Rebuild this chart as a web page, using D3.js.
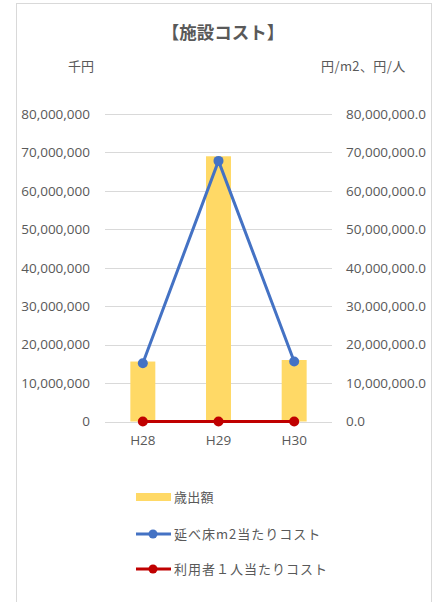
<!DOCTYPE html>
<html><head><meta charset="utf-8">
<script src="https://cdn.jsdelivr.net/npm/d3@7"></script>
<style>
html,body{margin:0;padding:0;background:#fff;}
text{font-family:"Noto Sans CJK JP","Noto Sans",sans-serif;}
</style></head>
<body>
<svg id="c" width="435" height="602"></svg>
<script>
const categories = ["H28","H29","H30"];
const expenditure = [15600000, 69000000, 16000000];
const costPerArea = [15150000, 67800000, 15600000];
const costPerUser = [0, 0, 0];
const leftTicks = [0,10000000,20000000,30000000,40000000,50000000,60000000,70000000,80000000];
const seriesNames = ["歳出額","延べ床m2当たりコスト","利用者１人当たりコスト"];

const svg = d3.select("#c");
const gray = "#595959";
const numFont = "'Open Sans','Noto Sans',sans-serif";
svg.append("rect").attr("x",16.5).attr("y",3.5).attr("width",415).attr("height",610)
  .attr("fill","#fff").attr("stroke","#d9d9d9").attr("stroke-width",1);

const x = d3.scaleBand().domain(categories).range([105,332]).padding(0);
const yL = d3.scaleLinear().domain([0,80000000]).range([421.5,114]);
const yR = d3.scaleLinear().domain([0,80000000]).range([421.5,114]);

// gridlines
svg.append("g").selectAll("line").data(leftTicks).join("line")
  .attr("x1",105).attr("x2",332).attr("y1",d=>Math.round(yL(d))+0.5).attr("y2",d=>Math.round(yL(d))+0.5)
  .attr("stroke","#d9d9d9").attr("stroke-width",1);

// left axis
const la = svg.append("g").attr("transform","translate(96,0)")
  .call(d3.axisLeft(yL).tickValues(leftTicks).tickSize(0).tickPadding(6).tickFormat(d3.format(",")));
la.select(".domain").remove();
la.selectAll("text").attr("fill",gray).style("font-size","13.5px").style("font-family",numFont);

const ra = svg.append("g").attr("transform","translate(340,0)")
  .call(d3.axisRight(yR).tickValues(leftTicks).tickSize(0).tickPadding(6).tickFormat(d3.format(",.1f")));
ra.select(".domain").remove();
ra.selectAll("text").attr("fill",gray).style("font-size","13.5px").style("font-family",numFont);

const xa = svg.append("g").attr("transform","translate(0,431)")
  .call(d3.axisBottom(x).tickSize(0).tickPadding(4));
xa.select(".domain").remove();
xa.selectAll("text").attr("fill",gray).style("font-size","13.5px").style("font-family",numFont);

// bars
const bw = x.bandwidth()*0.33;
svg.append("g").selectAll("rect").data(expenditure).join("rect")
  .attr("x",(d,i)=>x(categories[i])+x.bandwidth()/2-bw/2)
  .attr("width",bw)
  .attr("y",d=>yL(d)).attr("height",d=>yL(0)-yL(d))
  .attr("fill","#ffd966");

const cx = (d,i)=>x(categories[i])+x.bandwidth()/2;
function drawLine(vals,color){
  const line = d3.line().x((d,i)=>cx(d,i)).y(d=>yR(d));
  svg.append("path").datum(vals).attr("d",line).attr("fill","none")
    .attr("stroke",color).attr("stroke-width",3).attr("stroke-linejoin","round");
  svg.append("g").selectAll("circle").data(vals).join("circle")
    .attr("cx",cx).attr("cy",d=>yR(d)).attr("r",5).attr("fill",color);
}
drawLine(costPerArea,"#4472c4");
drawLine(costPerUser,"#c00000");

// title & axis titles
svg.append("text").attr("x",223).attr("y",39).attr("text-anchor","middle")
  .attr("fill",gray).style("font-size","17.5px").style("font-weight","bold").text("【施設コスト】");
svg.append("text").attr("x",68).attr("y",71).attr("fill",gray).style("font-size","13px").text("千円");
svg.append("text").attr("x",321).attr("y",71).attr("fill",gray).style("font-size","13px").style("letter-spacing","0.4px").text("円/m2、円/人");

// legend
const lg = svg.append("g");
const ly = [497,534,569];
lg.append("rect").attr("x",136).attr("y",ly[0]-4).attr("width",35).attr("height",8).attr("fill","#ffd966");
[["#4472c4",1],["#c00000",2]].forEach(([c,i])=>{
  lg.append("line").attr("x1",136).attr("x2",171).attr("y1",ly[i]).attr("y2",ly[i]).attr("stroke",c).attr("stroke-width",3);
  lg.append("circle").attr("cx",153).attr("cy",ly[i]).attr("r",4.5).attr("fill",c);
});
seriesNames.forEach((n,i)=>{
  lg.append("text").attr("x",174).attr("y",ly[i]).attr("dy","0.35em").attr("fill",gray)
    .style("font-size","13px").style("letter-spacing",i===0?"0.3px":"1px").text(n);
});
</script>
</body></html>
